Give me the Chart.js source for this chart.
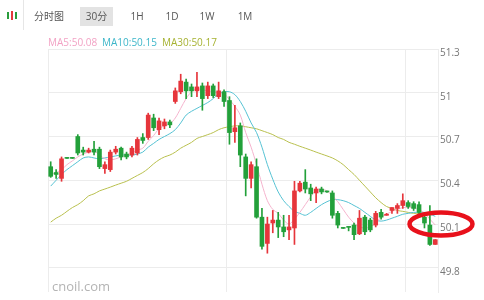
<!DOCTYPE html>
<html>
<head>
<meta charset="utf-8">
<script src="https://cdn.jsdelivr.net/npm/chart.js@4"></script>
<style>
  body { margin: 0; background: #fff; }
  #wrap { position: relative; width: 484px; height: 300px; overflow: hidden;
    font-family: "Open Sans", "Noto Sans CJK SC", sans-serif; }
  #chart { position: absolute; left: 0; top: 0; }
  .sep { position: absolute; left: 23px; top: 0; width: 1px; height: 30px; background: #e6e6e6; }
  .ico { position: absolute; top: 11px; width: 2px; }
  .tab { position: absolute; top: 7px; height: 19px; line-height: 19px; font-size: 10px;
    color: #555; text-align: center; }
  .tab.on { background: #e3e3e3; }
  .ma { position: absolute; top: 36px; font-size: 10px; line-height: 12px; }
  .mark { position: absolute; left: 52px; top: 277px; font-size: 13px; color: #b4b4b4; }
</style>
</head>
<body>
<div id="wrap">
  <canvas id="chart" width="484" height="300"></canvas>
  <div class="ico" style="left:7px;height:7px;top:12px;background:#2a9d3c"></div>
  <div class="ico" style="left:11px;height:9px;top:11px;background:#e5383b"></div>
  <div class="ico" style="left:15px;height:7px;top:12px;background:#2a9d3c"></div>
  <div class="sep"></div>
  <div class="tab" style="left:34px;width:30px">分时图</div>
  <div class="tab on" style="left:80px;width:33px">30分</div>
  <div class="tab" style="left:127px;width:20px">1H</div>
  <div class="tab" style="left:162px;width:20px">1D</div>
  <div class="tab" style="left:197px;width:20px">1W</div>
  <div class="tab" style="left:235px;width:20px">1M</div>
  <div class="ma" style="left:48px;color:#f2a2c4">MA5:50.08</div>
  <div class="ma" style="left:102px;color:#3db6c9">MA10:50.15</div>
  <div class="ma" style="left:162px;color:#a6b232">MA30:50.17</div>
  <div class="mark">cnoil.com</div>
</div>
<script>
// 30 minute candles
const open = [50.493, 50.453, 50.413, 50.553, 50.553, 50.70, 50.607, 50.593, 50.613, 50.613,
  50.48, 50.473, 50.593, 50.62, 50.58, 50.573, 50.587, 50.693, 50.693, 50.827,
  50.747, 50.773, 50.80, 50.94, 51.007, 51.073, 51.04, 51.013, 51.047, 50.98,
  51.047, 50.973, 51.007, 50.947, 50.733, 50.773, 50.56, 50.413, 50.493, 50.147,
  49.967, 50.107, 50.127, 50.08, 50.06, 50.073, 50.327, 50.387, 50.347, 50.313,
  50.34, 50.323, 50.313, 50.173, 50.073, 50.08, 50.093, 50.033, 50.147, 50.127,
  50.093, 50.18, 50.16, 50.193, 50.207, 50.227, 50.247, 50.24, 50.233, 50.147,
  50.093, 49.96];
const high = [50.527, 50.473, 50.56, 50.556, 50.556, 50.713, 50.627, 50.62, 50.667, 50.627,
  50.527, 50.607, 50.633, 50.627, 50.593, 50.633, 50.693, 50.72, 50.86, 50.853,
  50.827, 50.82, 50.813, 51.033, 51.127, 51.093, 51.06, 51.14, 51.067, 51.073,
  51.06, 51.073, 51.02, 50.973, 50.913, 50.793, 50.58, 50.527, 50.547, 50.207,
  50.147, 50.193, 50.18, 50.16, 50.16, 50.393, 50.393, 50.473, 50.373, 50.353,
  50.353, 50.326, 50.327, 50.187, 50.076, 50.08, 50.107, 50.193, 50.16, 50.14,
  50.187, 50.20, 50.173, 50.213, 50.24, 50.307, 50.26, 50.253, 50.253, 50.173,
  50.227, 49.993];
const low = [50.42, 50.413, 50.393, 50.55, 50.55, 50.573, 50.573, 50.587, 50.573, 50.48,
  50.447, 50.46, 50.58, 50.54, 50.547, 50.56, 50.573, 50.653, 50.68, 50.74,
  50.713, 50.753, 50.76, 50.927, 50.993, 50.96, 50.973, 50.973, 50.88, 50.96,
  50.967, 50.96, 50.907, 50.647, 50.66, 50.493, 50.293, 50.347, 50.14, 49.927,
  49.90, 50.04, 50.007, 50.013, 49.993, 49.96, 50.32, 50.313, 50.26, 50.247,
  50.307, 50.317, 50.14, 50.073, 50.07, 50.053, 49.993, 50.027, 50.027, 50.047,
  50.08, 50.133, 50.16, 50.173, 50.173, 50.207, 50.207, 50.193, 50.16, 50.073,
  49.953, 49.96];
const close = [50.427, 50.44, 50.547, 50.55, 50.55, 50.587, 50.593, 50.607, 50.593, 50.493,
  50.507, 50.593, 50.613, 50.56, 50.56, 50.62, 50.68, 50.673, 50.847, 50.76,
  50.807, 50.80, 50.78, 51.013, 51.08, 51.013, 51.013, 51.04, 50.96, 51.047,
  50.98, 51.013, 50.94, 50.727, 50.76, 50.573, 50.413, 50.507, 50.147, 49.947,
  50.10, 50.127, 50.08, 50.047, 50.08, 50.327, 50.38, 50.34, 50.307, 50.34,
  50.32, 50.32, 50.16, 50.093, 50.07, 50.077, 50.027, 50.14, 50.047, 50.06,
  50.173, 50.147, 50.167, 50.213, 50.227, 50.26, 50.22, 50.207, 50.18, 50.107,
  49.96, 49.993];

// moving average lines as drawn in the picture
const ma5 = [50.44, 50.453, 50.473, 50.507, 50.533, 50.56, 50.58, 50.593, 50.60, 50.573,
  50.547, 50.54, 50.547, 50.56, 50.573, 50.587, 50.607, 50.62, 50.667, 50.707,
  50.753, 50.773, 50.787, 50.827, 50.893, 50.96, 51.007, 51.027, 51.02, 51.013,
  51.007, 51.0, 50.993, 50.953, 50.907, 50.847, 50.727, 50.627, 50.507, 50.373,
  50.26, 50.20, 50.173, 50.127, 50.10, 50.133, 50.18, 50.233, 50.287, 50.333,
  50.34, 50.327, 50.293, 50.253, 50.20, 50.147, 50.107, 50.08, 50.073, 50.08,
  50.107, 50.147, 50.167, 50.187, 50.20, 50.213, 50.213, 50.213, 50.20, 50.173,
  50.133, 50.093];
const ma10 = [50.36, 50.40, 50.44, 50.473, 50.50, 50.527, 50.553, 50.56, 50.553, 50.547,
  50.553, 50.56, 50.567, 50.573, 50.573, 50.573, 50.58, 50.593, 50.627, 50.653,
  50.68, 50.70, 50.72, 50.747, 50.793, 50.847, 50.873, 50.893, 50.913, 50.933,
  50.96, 50.993, 51.007, 51.007, 50.987, 50.94, 50.873, 50.793, 50.727, 50.627,
  50.507, 50.407, 50.32, 50.26, 50.22, 50.187, 50.173, 50.16, 50.18, 50.207,
  50.233, 50.253, 50.267, 50.267, 50.26, 50.247, 50.227, 50.207, 50.18, 50.153,
  50.127, 50.12, 50.127, 50.14, 50.153, 50.167, 50.173, 50.18, 50.18, 50.18,
  50.167, 50.153];
const ma30 = [50.113, 50.14, 50.16, 50.187, 50.213, 50.233, 50.26, 50.293, 50.307, 50.327,
  50.34, 50.353, 50.367, 50.38, 50.393, 50.413, 50.433, 50.453, 50.48, 50.513,
  50.54, 50.56, 50.573, 50.593, 50.62, 50.64, 50.66, 50.687, 50.70, 50.713,
  50.727, 50.747, 50.76, 50.767, 50.773, 50.773, 50.767, 50.76, 50.753, 50.74,
  50.727, 50.713, 50.693, 50.68, 50.66, 50.647, 50.633, 50.62, 50.607, 50.593,
  50.58, 50.567, 50.553, 50.533, 50.507, 50.473, 50.44, 50.40, 50.36, 50.32,
  50.28, 50.247, 50.22, 50.207, 50.193, 50.187, 50.18, 50.173, 50.173, 50.167,
  50.167, 50.167];

const yTicks = [49.8, 50.1, 50.4, 50.7, 51, 51.3];
const dayStarts = [0, 33, 66];
const labels = open.map(function (_, i) { return String(i + 1); });

const red = "#e6353b";
const green = "#23a03a";
const colors = open.map(function (o, i) { return close[i] > o ? red : green; });

// red circle drawn over the latest price
const circleMark = {
  id: "circleMark",
  afterDraw: function (chart) {
    var ctx = chart.ctx;
    var cy = chart.scales.y.getPixelForValue(50.1);
    var cx = chart.chartArea.right + 3;
    ctx.save();
    ctx.strokeStyle = "#e8111b";
    ctx.lineWidth = 4.5;
    ctx.beginPath();
    ctx.ellipse(cx, cy, 31.5, 11.5, 0, 0, Math.PI * 2);
    ctx.stroke();
    ctx.restore();
  }
};

var ctx = document.getElementById("chart").getContext("2d");
var myChart = new Chart(ctx, {
  type: "bar",
  data: {
    labels: labels,
    datasets: [
      {
        type: "line", data: ma30, borderColor: "#b9c04e", borderWidth: 1,
        pointRadius: 0, tension: 0.3, order: 5
      },
      {
        type: "line", data: ma10, borderColor: "#55c2d3", borderWidth: 1,
        pointRadius: 0, tension: 0.3, order: 4
      },
      {
        type: "line", data: ma5, borderColor: "#f5b3cd", borderWidth: 1,
        pointRadius: 0, tension: 0.3, order: 3
      },
      {
        data: low.map(function (l, i) { return [l, high[i]]; }),
        backgroundColor: colors, barThickness: 1, grouped: false, order: 2
      },
      {
        data: open.map(function (o, i) { return [o, close[i]]; }),
        backgroundColor: colors, barThickness: 4, minBarLength: 1,
        grouped: false, order: 1
      }
    ]
  },
  options: {
    responsive: false,
    animation: false,
    devicePixelRatio: 1,
    layout: { padding: { left: 48, top: 49, right: 0, bottom: 0 } },
    plugins: { legend: { display: false }, tooltip: { enabled: false } },
    scales: {
      x: {
        offset: true,
        ticks: { display: false },
        border: { display: false },
        grid: {
          offset: true,
          drawTicks: false,
          color: function (c) { return dayStarts.indexOf(c.index) >= 0 ? "#ececec" : "rgba(0,0,0,0)"; }
        }
      },
      y: {
        position: "right",
        min: 49.634,
        max: 51.3,
        afterBuildTicks: function (scale) {
          scale.ticks = yTicks.map(function (v) { return { value: v }; });
        },
        afterFit: function (scale) { scale.width = 46; },
        border: { display: true, color: "#ececec" },
        grid: { color: "#ececec", drawTicks: false },
        ticks: {
          padding: 2,
          labelOffset: 4,
          color: "#777",
          font: { family: "Open Sans", size: 10 },
          callback: function (v) { return String(Number(v.toFixed(1))); }
        }
      }
    }
  },
  plugins: [circleMark]
});
</script>
</body>
</html>
